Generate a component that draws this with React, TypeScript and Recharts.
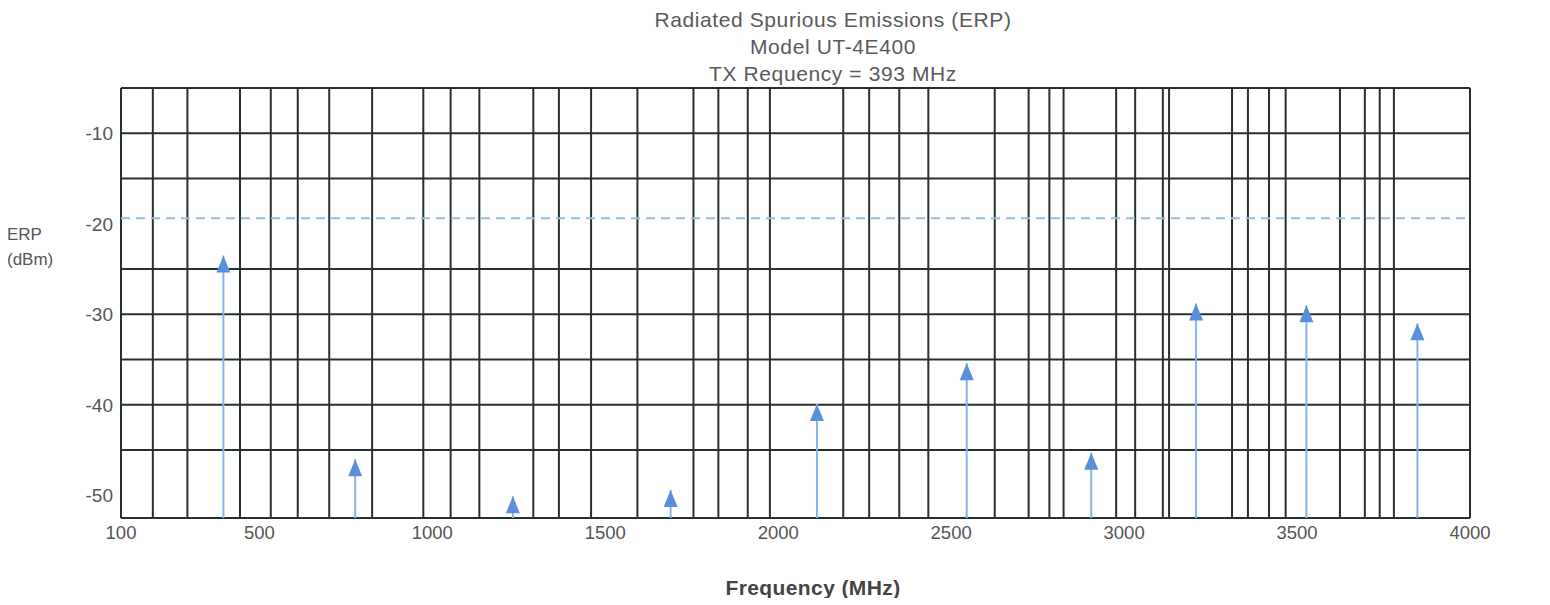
import { ComposedChart, Scatter, XAxis, YAxis, CartesianGrid, ReferenceLine } from 'recharts';

// harmonics (MHz / dBm at arrow tip)
const FREQ_MHZ = [396, 777, 1233, 1689, 2112, 2545, 2905, 3208, 3527, 3848];
const ERP_DBM = [-23.5, -46.0, -50.1, -49.4, -39.9, -35.4, -45.3, -28.8, -29.0, -31.0];
const LIMIT_DBM = -19.4;

const X_TICKS = [100, 500, 1000, 1500, 2000, 2500, 3000, 3500, 4000];
const Y_TICKS = [-10, -20, -30, -40, -50];

// the irregular paper grid of the original
const GRID_MHZ = [
  100, 192, 292, 444, 533, 611, 702, 826, 974, 1053, 1136, 1292, 1366, 1459, 1593, 1755, 1827,
  1912, 1976, 2188, 2263, 2350, 2434, 2626, 2724, 2784, 2825, 2977, 3032, 3112, 3130, 3312, 3358,
  3419, 3467, 3624, 3696, 3739, 3780, 4000,
];
const GRID_DBM = [-5, -10, -15, -25, -30, -35, -40, -45, -52.5];

const X_DOMAIN = [100, 4000];
const Y_DOMAIN = [-52.5, -5];

const data = FREQ_MHZ.map((freq, i) => ({ freq, erp: ERP_DBM[i] }));

const Arrow = (props: any) => {
  const { cx, cy } = props;
  return <path d={`M${cx},${cy} L${cx + 7},${cy + 17} L${cx - 7},${cy + 17} Z`} fill="#5b8fd9" />;
};

const gray = '#555';
const gridColor = '#28302d';

export default function App() {
  return (
    <div style={{ position: 'relative', width: 1534, height: 590, fontFamily: '"Liberation Sans", Arial, sans-serif' }}>
      <div style={{ position: 'absolute', left: 0, width: 1650, top: -2, textAlign: 'center', color: '#5a5a5a', fontSize: 21, lineHeight: '27px', letterSpacing: 0.6 }}>
        <div>Radiated Spurious Emissions (ERP)</div>
        <div>Model UT-4E400</div>
        <div>TX Requency = 393 MHz</div>
      </div>
      <div style={{ position: 'absolute', left: -1, top: 214, color: gray, fontSize: 17, lineHeight: '25px' }}>
        <div>ERP</div>
        <div>(dBm)</div>
      </div>
      <div style={{ position: 'absolute', left: 0, width: 1610, top: 568, textAlign: 'center', color: '#444', fontSize: 21, fontWeight: 'bold', letterSpacing: 0.4 }}>
        Frequency (MHz)
      </div>
      <ComposedChart width={1534} height={590} data={data} margin={{ top: 80, right: 72, bottom: 50, left: 53 }}>
        <CartesianGrid stroke={gridColor} strokeWidth={2} horizontalValues={GRID_DBM} verticalValues={GRID_MHZ} />
        <XAxis
          dataKey="freq"
          type="number"
          domain={X_DOMAIN}
          ticks={X_TICKS}
          height={30}
          axisLine={false}
          tickLine={false}
          tick={{ fill: gray, fontSize: 18.5 }}
          interval={0}
        />
        <YAxis
          dataKey="erp"
          type="number"
          domain={Y_DOMAIN}
          ticks={Y_TICKS}
          width={60}
          allowDataOverflow
          axisLine={false}
          tickLine={false}
          tick={{ fill: gray, fontSize: 19 }}
          interval={0}
        />
        <ReferenceLine y={LIMIT_DBM} stroke="#8fbfe6" strokeWidth={2} strokeDasharray="9 6" />
        {data.map((d) => (
          <ReferenceLine
            key={d.freq}
            segment={[{ x: d.freq, y: Y_DOMAIN[0] }, { x: d.freq, y: d.erp }]}
            stroke="#86b5ea"
            strokeWidth={2}
          />
        ))}
        <Scatter dataKey="erp" fill="#5b8fd9" shape={<Arrow />} isAnimationActive={false} />
      </ComposedChart>
    </div>
  );
}
